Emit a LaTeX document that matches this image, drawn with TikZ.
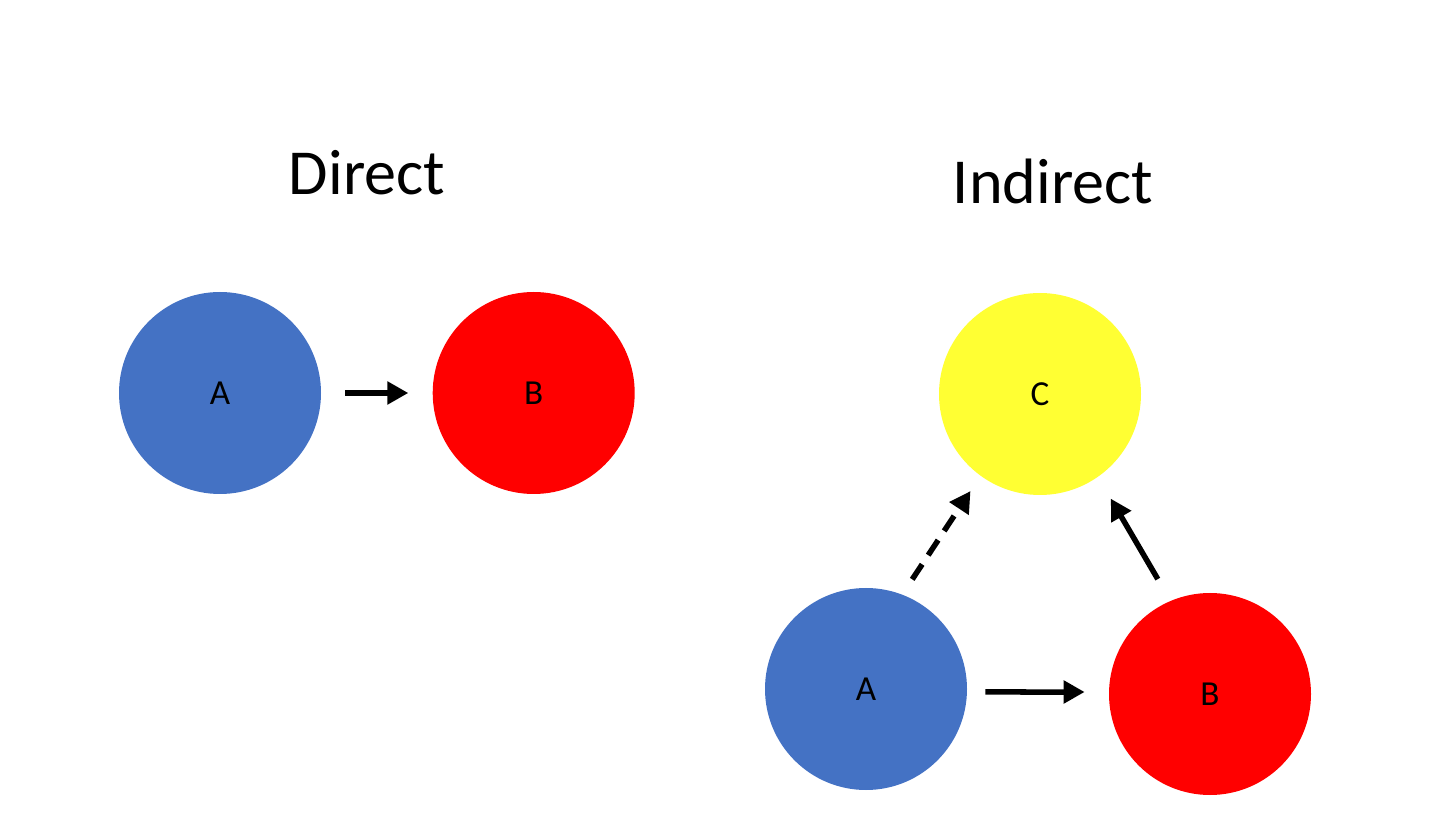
\documentclass[tikz,border=0pt]{standalone}
\usepackage{fontspec}
\setmainfont{Carlito}
\usepackage{xcolor}
\usepackage{tikz}
\usetikzlibrary{arrows.meta, positioning}

\definecolor{ablue}{HTML}{4472C4}
\definecolor{bred}{HTML}{FF0000}
\definecolor{cyellow}{HTML}{FFFF33}

\begin{document}
\begin{tikzpicture}[
    ball/.style={circle, minimum size=4.04cm, inner sep=0pt, font=\fontsize{20}{24}\selectfont},
    arr/.style={-{Triangle[length=0.42cm, width=0.44cm]}, line width=0.11cm},
    title/.style={font=\fontsize{36.5}{44}\selectfont}]
    \useasboundingbox (0,0) rectangle (28.8,-16.58);

    % direct
    \node [title] (tdirect) at (7.34,-3.46) {Direct};
    \node [ball, fill=ablue] (a1) at (4.4,-7.86) {A};
    \node [ball, fill=bred, right=2.22cm of a1] (b1) {B};

    \draw [arr, shorten <=0.48cm, shorten >=0.48cm] (a1) -- (b1);

    % indirect
    \node [title] (tindirect) at (21.06,-3.62) {Indirect};
    \node [ball, fill=cyellow] (c) at (20.8,-7.88) {C};
    \node [ball, fill=ablue] (a2) at (17.32,-13.78) {A};
    \node [ball, fill=bred] (b2) at (24.2,-13.88) {B};

    \draw [arr, shorten <=0.36cm, shorten >=0.48cm] ([yshift=-0.06cm]a2.east) -- ([yshift=0.04cm]b2.west);
    \draw [arr, dashed, dash pattern=on 0.36cm off 0.22cm, shorten <=0.36cm, shorten >=0.36cm] (a2.69) -- (c.234);
    \draw [arr, shorten <=0.5cm, shorten >=0.5cm] (b2.113) -- (c.-55);
\end{tikzpicture}
\end{document}
